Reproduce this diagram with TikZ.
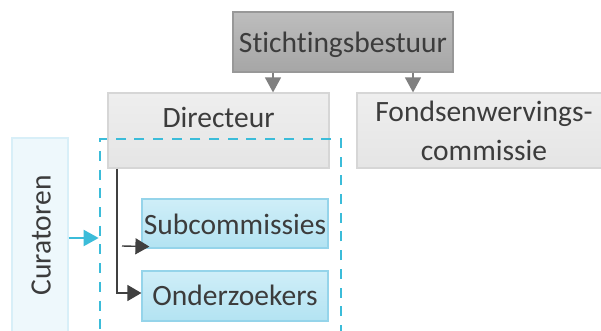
\documentclass[tikz,border=0pt]{standalone}
\usepackage{fontspec}
\setmainfont{Carlito}[Ligatures={NoCommon}]
\usetikzlibrary{arrows.meta}
\definecolor{txt}{HTML}{3C3C3C}
\definecolor{cyanline}{HTML}{3BBCD9}
\definecolor{grayarrow}{HTML}{808080}
\definecolor{darkline}{HTML}{404040}
\definecolor{topA}{HTML}{BDBDBD}
\definecolor{topB}{HTML}{A6A6A6}
\definecolor{topE}{HTML}{989898}
\definecolor{grayA}{HTML}{EEEEEE}
\definecolor{grayB}{HTML}{E5E5E5}
\definecolor{grayE}{HTML}{D6D6D6}
\definecolor{blueA}{HTML}{CFEEF8}
\definecolor{blueB}{HTML}{B3E3F2}
\definecolor{blueE}{HTML}{95D4EA}
\definecolor{curF}{HTML}{EEF8FC}
\definecolor{curE}{HTML}{D8EFF8}
\tikzset{
  lblbase/.style={font=\fontsize{29.5}{39}\selectfont, text=txt, inner sep=0pt},
  lbl/.style={lblbase, text height=21pt, text depth=0pt},
  topbox/.style={lbl, draw=topE, line width=1.2pt, top color=topA, bottom color=topB},
  graycol/.style={draw=grayE, line width=1.2pt, top color=grayA, bottom color=grayB},
  bluebox/.style={lbl, draw=blueE, line width=1.2pt, top color=blueA, bottom color=blueB},
  curbox/.style={lbl, draw=curE, line width=1.2pt, fill=curF},
  dashbox/.style={draw=cyanline, line width=2.7pt, dash pattern=on 10pt off 8.7pt},
  grayarr/.style={draw=grayarrow, line width=1.3pt, -{Triangle[length=15pt,width=16pt]}, color=grayarrow},
  darkarr/.style={draw=darkline, line width=1.4pt, -{Triangle[length=14pt,width=16pt]}, color=darkline},
  cyanarr/.style={draw=cyanline, line width=2pt, -{Triangle[length=15pt,width=16pt]}, color=cyanline},
}
\begin{document}
\begin{tikzpicture}[x=1pt,y=-1pt]
\useasboundingbox (0,0) rectangle (601,331);
\clip (0,0) rectangle (601,331);
\fill[white] (0,0) rectangle (601,331);

\node[topbox, minimum width=220pt, minimum height=60pt] (stich) at (343,42) {Stichtingsbestuur};
\node[lbl, graycol, minimum width=221pt, minimum height=75pt, text depth=27pt] (dir) at (218.5,130.5) {Directeur};
\node[lblbase, graycol, minimum width=254pt, minimum height=75pt, align=center] (fonds) at (484,130.5) {Fondsenwervings-\\commissie};

\node[curbox, rotate=90, minimum width=195pt, minimum height=56pt] (cur) at (40,235.5) {Curatoren};

\node[bluebox, minimum width=186pt, minimum height=49pt] (sub) at (235,223.5) {Subcommissies};
\node[bluebox, minimum width=186pt, minimum height=50pt, text depth=2pt] (ond) at (235,296) {Onderzoekers};

\node[dashbox, minimum width=241pt, minimum height=198pt] (grp) at (220.5,238) {};

\coordinate (a1) at (273,72);
\coordinate (a2) at (413,72);
\draw[grayarr] (stich.south -| a1) -- (dir.north -| a1);
\draw[grayarr] (stich.south -| a2) -- (fonds.north -| a2);

\coordinate (v1) at (117,169);
\draw[darkarr] (dir.south -| v1) |- ([yshift=3pt]ond.west);
\coordinate (s1) at (122,246);
\draw[darkarr] (s1) -- ([shift={(8pt,2pt)}]sub.south west);

\draw[cyanarr] (cur.south |- grp.west) -- (grp.west);
\end{tikzpicture}
\end{document}
